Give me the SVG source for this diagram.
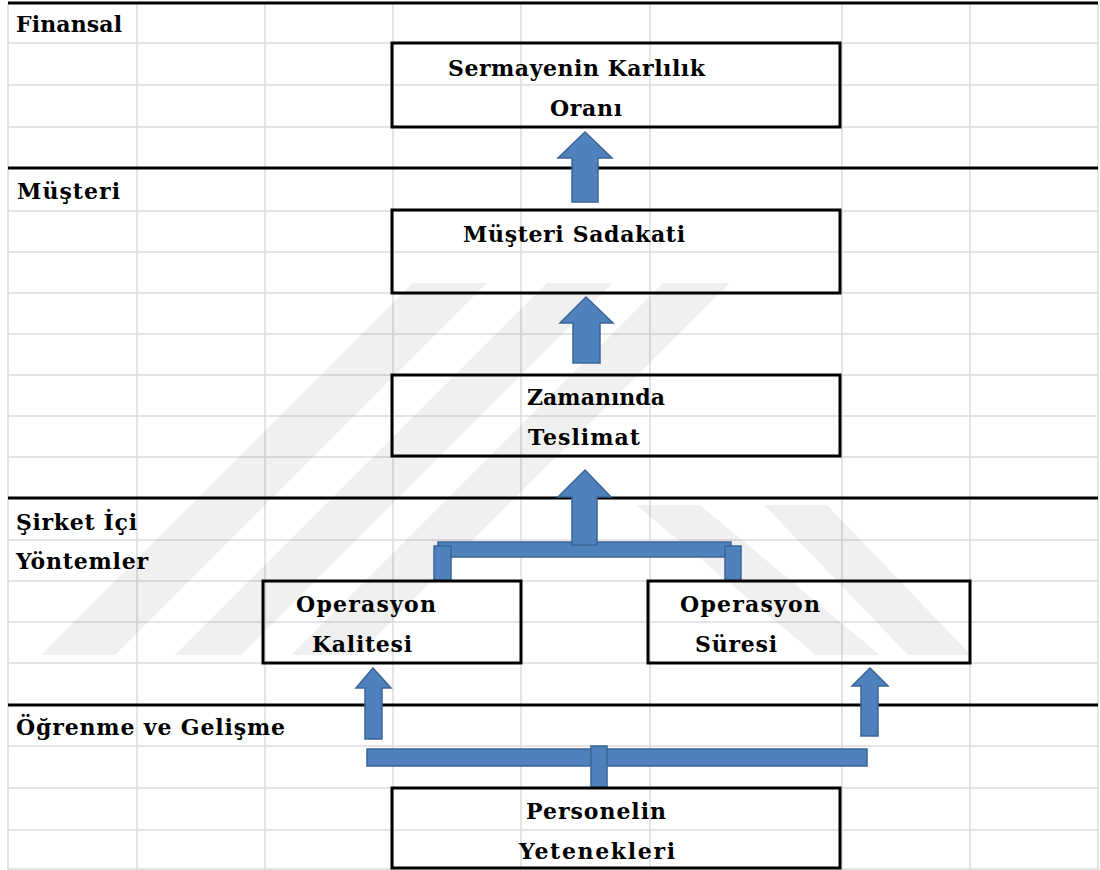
<svg xmlns="http://www.w3.org/2000/svg" width="1100" height="870" viewBox="0 0 1100 870">
  <defs>
    <style>
      .grid { stroke: #dcdcdc; stroke-width: 1.5; fill: none; }
      .lane { stroke: #000; stroke-width: 3; fill: none; }
      .box { stroke: #000; stroke-width: 3; fill: none; }
      .lbl { font-family: "DejaVu Serif", "Liberation Serif", serif; font-weight: bold; font-size: 22px; fill: #000; }
      .arw { fill: #4f81bd; stroke: #3b6497; stroke-width: 1.5; stroke-linejoin: miter; }
      .wm { fill: #000; fill-opacity: 0.06; }
    </style>
  </defs>
  <rect x="0" y="0" width="1100" height="870" fill="#fff"/>

  <!-- spreadsheet cell grid -->
  <g id="grid" class="grid">
    <path d="M8 3V870M137 3V870M265 3V870M393 3V870M521 3V870M650 3V870M842 3V870M970 3V870M1098 3V870"/>
    <path d="M8 43H1098M8 85H1098M8 127H1098M8 211H1098M8 252H1098M8 293H1098M8 334H1098M8 375H1098M8 416H1098M8 457H1098M8 540H1098M8 581H1098M8 622H1098M8 663H1098M8 746H1098M8 788H1098M8 830H1098M8 869H1098"/>
  </g>

  <!-- background emblem -->
  <g id="emblem" class="wm">
    <polygon points="41,655 115,655 487,283 413,283"/>
    <polygon points="175,655 241,655 613,283 547,283"/>
    <polygon points="291,655 358,655 730,283 663,283"/>
    <polygon points="636,505 700,505 880,655 816,655"/>
    <polygon points="764,505 827,505 971,655 908,655"/>
  </g>

  <!-- perspective lanes -->
  <g id="lanes" class="lane">
    <line x1="8" y1="3" x2="1098" y2="3"/>
    <line x1="8" y1="168" x2="1098" y2="168"/>
    <line x1="8" y1="498" x2="1098" y2="498"/>
    <line x1="8" y1="705" x2="1098" y2="705"/>
  </g>

  <g id="lane-labels" class="lbl">
    <text x="16" y="32" textLength="106">Finansal</text>
    <text x="17" y="199" textLength="103">Müşteri</text>
    <text x="16" y="530" textLength="121">Şirket İçi</text>
    <text x="16" y="569" textLength="132">Yöntemler</text>
    <text x="16" y="735" textLength="269">Öğrenme ve Gelişme</text>
  </g>

  <!-- connectors -->
  <g id="connectors">
    <polygon class="arw" points="585,132 612,158 598,158 598,202 572,202 572,158 558,158"/>
    <polygon class="arw" points="586,297 613,323 600,323 600,363 573,363 573,323 560,323"/>
    <rect class="arw" x="438" y="542" width="293" height="15"/>
    <rect class="arw" x="434" y="546" width="17" height="35"/>
    <rect class="arw" x="725" y="546" width="16" height="35"/>
    <polygon class="arw" points="585,470 611,497 597,497 597,545 572,545 572,497 558,497"/>
    <polygon class="arw" points="373,668 391,688 382,688 382,739 365,739 365,688 356,688"/>
    <polygon class="arw" points="870,668 888,686 878,686 878,736 861,736 861,686 852,686"/>
    <rect class="arw" x="367" y="749" width="500" height="17"/>
    <rect class="arw" x="591" y="746" width="16" height="42"/>
  </g>

  <g id="node-sermaye">
    <rect class="box" x="392" y="43" width="448" height="84"/>
    <text class="lbl" x="448" y="76" textLength="257">Sermayenin Karlılık</text>
    <text class="lbl" x="550" y="116" textLength="72">Oranı</text>
  </g>
  <g id="node-sadakat">
    <rect class="box" x="392" y="210" width="448" height="83"/>
    <text class="lbl" x="463" y="242" textLength="222">Müşteri Sadakati</text>
  </g>
  <g id="node-teslimat">
    <rect class="box" x="392" y="375" width="448" height="81"/>
    <text class="lbl" x="527" y="405" textLength="138">Zamanında</text>
    <text class="lbl" x="528" y="445" textLength="112">Teslimat</text>
  </g>
  <g id="node-kalite">
    <rect class="box" x="263" y="581" width="258" height="82"/>
    <text class="lbl" x="296" y="612" textLength="140">Operasyon</text>
    <text class="lbl" x="312" y="652" textLength="100">Kalitesi</text>
  </g>
  <g id="node-sure">
    <rect class="box" x="648" y="581" width="322" height="82"/>
    <text class="lbl" x="680" y="612" textLength="140">Operasyon</text>
    <text class="lbl" x="695" y="652" textLength="82">Süresi</text>
  </g>
  <g id="node-personel">
    <rect class="box" x="392" y="788" width="448" height="80"/>
    <text class="lbl" x="526" y="819" textLength="140">Personelin</text>
    <text class="lbl" x="519" y="859" textLength="156">Yetenekleri</text>
  </g>
</svg>
